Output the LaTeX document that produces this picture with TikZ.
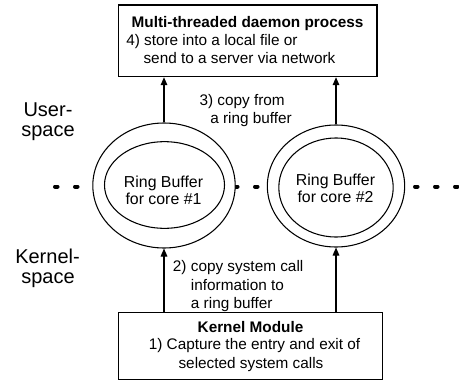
\documentclass[tikz,border=0pt]{standalone}
\usepackage{fontspec}
\setmainfont{Liberation Sans}
\usetikzlibrary{arrows.meta,shapes.geometric}
\begin{document}
\begin{tikzpicture}[x=0.75pt,y=-0.75pt,
  boxst/.style={draw,line width=0.8pt,inner sep=0pt,fill=white},
  ringst/.style={draw,ellipse,line width=0.8pt,inner sep=0pt,fill=white},
  txt/.style={inner sep=0pt,font=\fontsize{11.5}{13.7}\selectfont},
  rtxt/.style={inner sep=0pt,align=center,font=\fontsize{11.9}{12.8}\selectfont},
  side/.style={inner sep=0pt,align=center,font=\fontsize{15}{15}\selectfont},
  arr/.style={line width=0.8pt,-{Triangle[length=6pt,width=5pt]}},
  dots/.style={line width=3pt,line cap=round,dash pattern=on 1.9pt off 13.1pt}]
\useasboundingbox (0,0) rectangle (459,381);
% dotted separator
\coordinate (dl) at (55,186.5);
\coordinate (dr) at (470,186.5);
\draw[dots] (dl) -- (dr);
% boxes
\node[boxst,minimum width=193.9pt,minimum height=53.8pt] (top) at (247.75,40.85) {};
\node[boxst,minimum width=198.3pt,minimum height=50pt] (km) at (250.5,346) {};
% rings
\node[ringst,minimum width=106.8pt,minimum height=93.75pt] (r1o) at (164,185.5) {};
\node[ringst,minimum width=90pt,minimum height=65pt] (r1i) at (164.5,185) {};
\node[ringst,minimum width=103pt,minimum height=91.5pt] (r2o) at (336,186) {};
\node[ringst,minimum width=85.8pt,minimum height=74.25pt] (r2i) at (336,187.5) {};
\node[rtxt] (r1t) at (163.5,190.5) {Ring Buffer\\for core \#1};
\node[rtxt] (r2t) at (335.5,188.5) {Ring Buffer\\for core \#2};
% top box text
\node[txt,anchor=base] (t1) at (247.5,27.5) {\bfseries Multi-threaded daemon process};
\node[txt,anchor=base west] (t2) at (126,46) {4) store into a local file or};
\node[txt,anchor=base west] (t3) at (143.3,64) {send to a server via network};
% kernel module text
\node[txt,anchor=base] (k1) at (250.5,332.3) {\bfseries Kernel Module};
\node[txt,anchor=base] (k2) at (254.5,349.8) {1) Capture the entry and exit of};
\node[txt,anchor=base] (k3) at (251,368.3) {selected system calls};
% arrow labels
\node[txt,anchor=base west] (l3a) at (199.3,105) {3) copy from};
\node[txt,anchor=base west] (l3b) at (210,123.5) {a ring buffer};
\node[txt,anchor=base west] (l2a) at (172.7,271.7) {2) copy system call};
\node[txt,anchor=base west] (l2b) at (190.7,290) {information to};
\node[txt,anchor=base west] (l2c) at (190.7,308.3) {a ring buffer};
% side labels
\node[side,anchor=base] (us1) at (48,116.7) {User-};
\node[side,anchor=base] (us2) at (48,136.7) {space};
\node[side,anchor=base] (ks1) at (47.5,263.3) {Kernel-};
\node[side,anchor=base] (ks2) at (48,283.3) {space};
% arrows
\draw[arr] (r1o.north) -- (r1o.north |- top.south);
\draw[arr] (r2o.north) -- (r2o.north |- top.south);
\draw[arr] (r1o.south |- km.north) -- (r1o.south);
\draw[arr] (r2o.south |- km.north) -- (r2o.south);
\end{tikzpicture}
\end{document}
